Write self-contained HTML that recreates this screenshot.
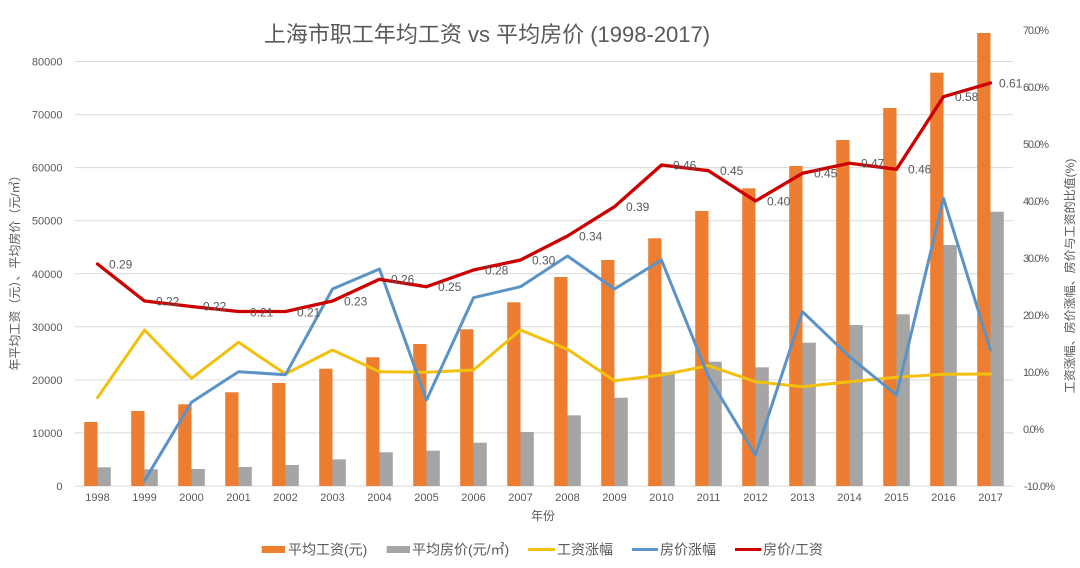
<!DOCTYPE html>
<html><head><meta charset="utf-8"><style>
html,body{margin:0;padding:0;background:#fff;}
svg{display:block;}
text{font-family:"Liberation Sans","Noto Sans CJK SC",sans-serif;fill:#595959;}
</style></head><body>
<svg width="1080" height="568" viewBox="0 0 1080 568" xmlns="http://www.w3.org/2000/svg">
<rect width="1080" height="568" fill="#fff"/>
<text x="487" y="42" font-size="22" text-anchor="middle">上海市职工年均工资 vs 平均房价 (1998-2017)</text>
<g stroke="#D9D9D9" stroke-width="1">
<line x1="75" x2="1013" y1="61.5" y2="61.5"/>
<line x1="75" x2="1013" y1="114.6" y2="114.6"/>
<line x1="75" x2="1013" y1="167.6" y2="167.6"/>
<line x1="75" x2="1013" y1="220.7" y2="220.7"/>
<line x1="75" x2="1013" y1="273.8" y2="273.8"/>
<line x1="75" x2="1013" y1="326.8" y2="326.8"/>
<line x1="75" x2="1013" y1="379.9" y2="379.9"/>
<line x1="75" x2="1013" y1="432.9" y2="432.9"/>
<line x1="75" x2="1013" y1="486" y2="486"/>
</g>
<g font-size="11" text-anchor="end">
<text x="62.5" y="65.5">80000</text>
<text x="62.5" y="118.6">70000</text>
<text x="62.5" y="171.6">60000</text>
<text x="62.5" y="224.7">50000</text>
<text x="62.5" y="277.8">40000</text>
<text x="62.5" y="330.8">30000</text>
<text x="62.5" y="383.9">20000</text>
<text x="62.5" y="436.9">10000</text>
<text x="62.5" y="490">0</text>
</g>
<g font-size="11">
<text x="1023" y="34" textLength="26">70.0%</text>
<text x="1023" y="91" textLength="26">60.0%</text>
<text x="1023" y="148" textLength="26">50.0%</text>
<text x="1023" y="205" textLength="26">40.0%</text>
<text x="1023" y="262" textLength="26">30.0%</text>
<text x="1023" y="319" textLength="26">20.0%</text>
<text x="1023" y="376" textLength="26">10.0%</text>
<text x="1023" y="433" textLength="21">0.0%</text>
<text x="1024" y="490" textLength="31">-10.0%</text>
</g>
<text transform="translate(19,270) rotate(-90)" font-size="12" text-anchor="middle">年平均工资（元）、平均房价（元/㎡）</text>
<text transform="translate(1074,276) rotate(-90)" font-size="12" text-anchor="middle">工资涨幅、房价涨幅、房价与工资的比值(%)</text>
<g fill="#ED7D31">
<rect x="84.2" y="422" width="13.3" height="64"/>
<rect x="131.2" y="411" width="13.3" height="75"/>
<rect x="178.2" y="404.3" width="13.3" height="81.7"/>
<rect x="225.2" y="392.3" width="13.3" height="93.7"/>
<rect x="272.2" y="383" width="13.3" height="103"/>
<rect x="319.2" y="368.7" width="13.3" height="117.3"/>
<rect x="366.2" y="357.3" width="13.3" height="128.7"/>
<rect x="413.2" y="344" width="13.3" height="142"/>
<rect x="460.2" y="329.3" width="13.3" height="156.7"/>
<rect x="507.2" y="302.3" width="13.3" height="183.7"/>
<rect x="554.2" y="277" width="13.3" height="209"/>
<rect x="601.2" y="260" width="13.3" height="226"/>
<rect x="648.2" y="238.3" width="13.3" height="247.7"/>
<rect x="695.2" y="211" width="13.3" height="275"/>
<rect x="742.2" y="188.3" width="13.3" height="297.7"/>
<rect x="789.2" y="166" width="13.3" height="320"/>
<rect x="836.2" y="140" width="13.3" height="346"/>
<rect x="883.2" y="108" width="13.3" height="378"/>
<rect x="930.2" y="72.7" width="13.3" height="413.3"/>
<rect x="977.2" y="33" width="13.3" height="453"/>
</g>
<g fill="#A5A5A5">
<rect x="97.5" y="467.3" width="13.3" height="18.7"/>
<rect x="144.5" y="469.3" width="13.3" height="16.7"/>
<rect x="191.5" y="469" width="13.3" height="17"/>
<rect x="238.5" y="467" width="13.3" height="19"/>
<rect x="285.5" y="465" width="13.3" height="21"/>
<rect x="332.5" y="459.3" width="13.3" height="26.7"/>
<rect x="379.5" y="452.3" width="13.3" height="33.7"/>
<rect x="426.5" y="450.7" width="13.3" height="35.3"/>
<rect x="473.5" y="442.7" width="13.3" height="43.3"/>
<rect x="520.5" y="432" width="13.3" height="54"/>
<rect x="567.5" y="415.3" width="13.3" height="70.7"/>
<rect x="614.5" y="397.7" width="13.3" height="88.3"/>
<rect x="661.5" y="372.3" width="13.3" height="113.7"/>
<rect x="708.5" y="361.7" width="13.3" height="124.3"/>
<rect x="755.5" y="367.3" width="13.3" height="118.7"/>
<rect x="802.5" y="342.7" width="13.3" height="143.3"/>
<rect x="849.5" y="325" width="13.3" height="161"/>
<rect x="896.5" y="314.3" width="13.3" height="171.7"/>
<rect x="943.5" y="245" width="13.3" height="241"/>
<rect x="990.5" y="211.7" width="13.3" height="274.3"/>
</g>
<g fill="none" stroke-linejoin="round" stroke-linecap="round">
<polyline stroke="#F2C10F" stroke-width="3" points="97.5,397.7 144.5,330 191.5,378.3 238.5,342.3 285.5,374 332.5,350 379.5,371.7 426.5,372.3 473.5,370 520.5,330 567.5,349.3 614.5,380.7 661.5,375 708.5,365.7 755.5,381.7 802.5,386.7 849.5,381.7 896.5,377.3 943.5,374.3 990.5,374"/>
<polyline stroke="#5B93C6" stroke-width="3" points="144.5,480.7 191.5,402.3 238.5,371.7 285.5,374.7 332.5,289 379.5,269 426.5,400 473.5,297.7 520.5,286.7 567.5,256 614.5,289 661.5,260 708.5,376.7 755.5,455 802.5,311.7 849.5,356.7 896.5,395 943.5,198.3 990.5,350"/>
<polyline stroke="#CC0000" stroke-width="3.3" points="97.5,264 144.5,301 191.5,306.5 238.5,311.5 285.5,311.5 332.5,301 379.5,279.3 426.5,286.7 473.5,270 520.5,260 567.5,236 614.5,206.7 661.5,165 708.5,170.7 755.5,201 802.5,173.3 849.5,163.3 896.5,169.3 943.5,96.7 990.5,83"/>
</g>
<g font-size="12" fill="#404040">
<text x="109" y="268.3" fill="#404040">0.29</text>
<text x="156" y="305.3" fill="#404040">0.22</text>
<text x="203" y="310.3" fill="#404040">0.22</text>
<text x="250" y="316.3" fill="#404040">0.21</text>
<text x="297" y="316.3" fill="#404040">0.21</text>
<text x="344" y="305.3" fill="#404040">0.23</text>
<text x="391" y="283.6" fill="#404040">0.26</text>
<text x="438" y="291" fill="#404040">0.25</text>
<text x="485" y="274.3" fill="#404040">0.28</text>
<text x="532" y="264.3" fill="#404040">0.30</text>
<text x="579" y="240.3" fill="#404040">0.34</text>
<text x="626" y="211" fill="#404040">0.39</text>
<text x="673" y="169.3" fill="#404040">0.46</text>
<text x="720" y="175" fill="#404040">0.45</text>
<text x="767" y="205.3" fill="#404040">0.40</text>
<text x="814" y="177.6" fill="#404040">0.45</text>
<text x="861" y="167.6" fill="#404040">0.47</text>
<text x="908" y="173.6" fill="#404040">0.46</text>
<text x="955" y="101" fill="#404040">0.58</text>
<text x="999" y="87.3" fill="#404040">0.61</text>
</g>
<g font-size="11" text-anchor="middle">
<text x="97.5" y="501">1998</text>
<text x="144.5" y="501">1999</text>
<text x="191.5" y="501">2000</text>
<text x="238.5" y="501">2001</text>
<text x="285.5" y="501">2002</text>
<text x="332.5" y="501">2003</text>
<text x="379.5" y="501">2004</text>
<text x="426.5" y="501">2005</text>
<text x="473.5" y="501">2006</text>
<text x="520.5" y="501">2007</text>
<text x="567.5" y="501">2008</text>
<text x="614.5" y="501">2009</text>
<text x="661.5" y="501">2010</text>
<text x="708.5" y="501">2011</text>
<text x="755.5" y="501">2012</text>
<text x="802.5" y="501">2013</text>
<text x="849.5" y="501">2014</text>
<text x="896.5" y="501">2015</text>
<text x="943.5" y="501">2016</text>
<text x="990.5" y="501">2017</text>
</g>
<text x="543" y="520" font-size="12" text-anchor="middle">年份</text>
<rect x="261.7" y="546" width="23.3" height="7" fill="#ED7D31"/>
<text x="288" y="554.5" font-size="14">平均工资(元)</text>
<rect x="386.7" y="546" width="23.3" height="7" fill="#A5A5A5"/>
<text x="412" y="554.5" font-size="14">平均房价(元/㎡)</text>
<line x1="528" x2="555" y1="549.5" y2="549.5" stroke="#F2C10F" stroke-width="3"/>
<text x="557" y="554.5" font-size="14">工资涨幅</text>
<line x1="632" x2="658" y1="549.5" y2="549.5" stroke="#5B93C6" stroke-width="3"/>
<text x="660" y="554.5" font-size="14">房价涨幅</text>
<line x1="735" x2="761.5" y1="549.5" y2="549.5" stroke="#CC0000" stroke-width="3"/>
<text x="763" y="554.5" font-size="14">房价/工资</text>
</svg>
</body></html>
